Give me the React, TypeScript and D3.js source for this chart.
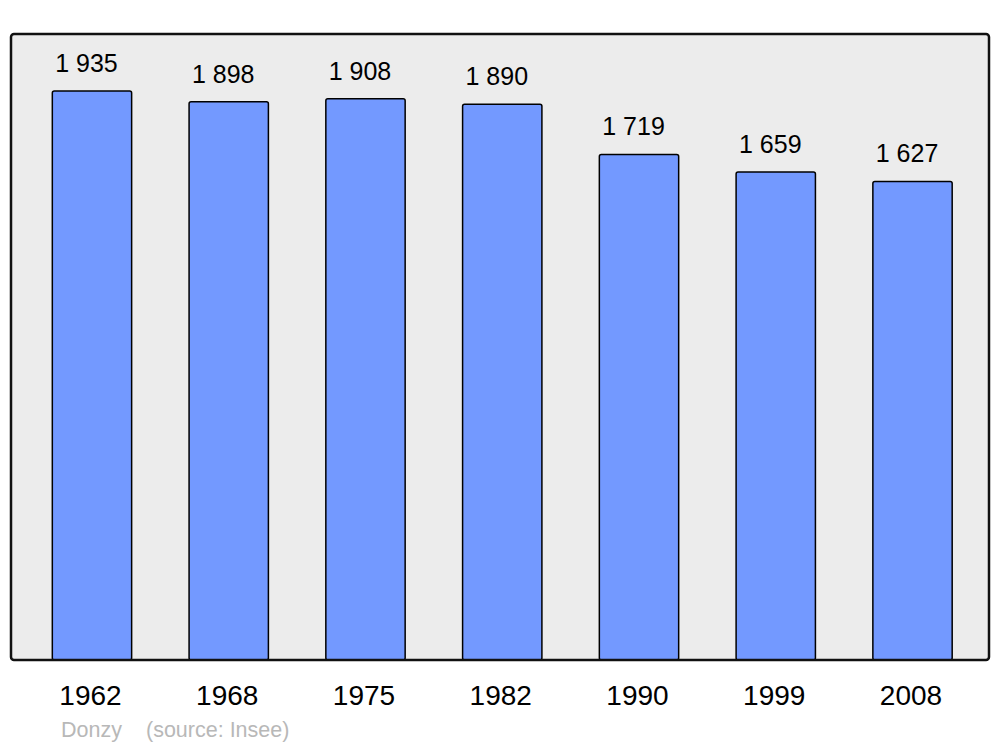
import React from "react";
import * as d3 from "d3";

const years = ["1962", "1968", "1975", "1982", "1990", "1999", "2008"];
const population = [1935, 1898, 1908, 1890, 1719, 1659, 1627];
const townName = "Donzy";
const sourceText = "(source: Insee)";

const W = 1000;
const H = 747;
const frame = { x0: 11, x1: 989, y0: 34, y1: 660 };

const fmt = (v: number) => {
  const s = String(v);
  return s.length > 3 ? s.slice(0, s.length - 3) + " " + s.slice(-3) : s;
};

export default function App() {
  const x = d3
    .scaleBand<string>()
    .domain(years)
    .range([23.6, 980.9])
    .paddingInner(0.42)
    .paddingOuter(0.21);
  const y = d3
    .scaleLinear()
    .domain([0, (d3.max(population) as number) * 1.1])
    .range([frame.y1, frame.y0]);

  const font = "'Liberation Sans', Arial, sans-serif";

  return (
    <svg
      width={W}
      height={H}
      style={{ position: "absolute", left: 0, top: 0, display: "block" }}
      fontFamily={font}
    >
      <rect x={0} y={0} width={W} height={H} fill="#ffffff" />
      <rect
        x={frame.x0}
        y={frame.y0}
        width={frame.x1 - frame.x0}
        height={frame.y1 - frame.y0}
        rx={3}
        ry={3}
        fill="#ececec"
        stroke="none"
      />
      {years.map((yr, i) => {
        const bx = x(yr) as number;
        const by = y(population[i]);
        return (
          <g key={yr}>
            <rect
              x={bx}
              y={by}
              width={x.bandwidth()}
              height={frame.y1 - by}
              rx={2}
              ry={2}
              fill="#7399ff"
              stroke="#000"
              strokeWidth={1.5}
            />
            <text
              x={bx + x.bandwidth() / 2 - 5.5}
              y={by - 19}
              textAnchor="middle"
              fontSize={25}
              fill="#000"
            >
              {fmt(population[i])}
            </text>
            <text
              x={bx + x.bandwidth() / 2 - 1.5}
              y={705}
              textAnchor="middle"
              fontSize={28}
              fill="#000"
            >
              {yr}
            </text>
          </g>
        );
      })}
      <rect
        x={frame.x0}
        y={frame.y0}
        width={frame.x1 - frame.x0}
        height={frame.y1 - frame.y0}
        rx={3}
        ry={3}
        fill="none"
        stroke="#111"
        strokeWidth={2.5}
      />
      <text x={61} y={737} fontSize={21.5} fill="#b8b8b8">
        {townName}
      </text>
      <text x={146} y={737} fontSize={21.5} fill="#b8b8b8">
        {sourceText}
      </text>
    </svg>
  );
}
